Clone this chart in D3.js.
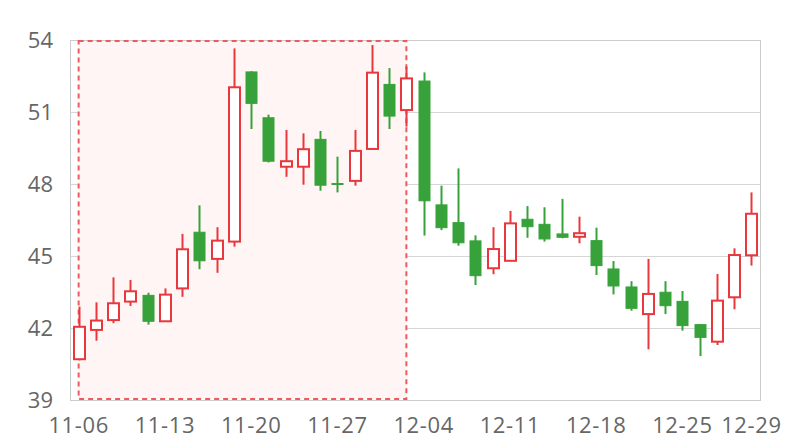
<!DOCTYPE html>
<html><head><meta charset="utf-8">
<script src="https://cdn.jsdelivr.net/npm/d3@7"></script>
<style>body{margin:0;background:#fff}svg{display:block}</style>
</head><body>
<svg id="c" width="800" height="440"></svg>
<script>
const dates = ["11-06","11-07","11-08","11-09","11-10","11-13","11-14","11-15","11-16","11-17",
"11-20","11-21","11-22","11-23","11-24","11-27","11-28","11-29","11-30","12-01",
"12-04","12-05","12-06","12-07","12-08","12-11","12-12","12-13","12-14","12-15",
"12-18","12-19","12-20","12-21","12-22","12-25","12-26","12-27","12-28","12-29"];
const openV  = [40.70,41.92,42.33,43.10,43.36,42.28,43.65,45.99,44.88,45.60,
52.67,50.76,48.72,48.72,49.86,48.02,48.13,49.46,52.15,51.08,
52.29,47.13,46.39,45.63,44.49,44.80,46.53,46.32,45.92,45.80,
45.64,44.46,43.71,42.58,43.49,43.11,42.14,41.43,43.28,45.03];
const closeV = [42.05,42.31,43.03,43.53,42.28,43.39,45.28,44.80,45.64,52.03,
51.36,48.95,48.95,49.45,47.95,47.98,49.38,52.64,50.83,52.40,
47.30,46.18,45.55,44.18,45.29,46.36,46.22,45.71,45.78,45.95,
44.60,43.75,42.82,43.42,42.93,42.10,41.61,43.14,45.04,46.76];
const highV  = [42.89,43.07,44.11,44.00,43.47,43.65,45.92,47.11,46.20,53.65,
52.70,50.89,50.25,50.11,50.21,49.14,50.25,53.79,52.83,52.89,
52.65,47.93,48.65,45.86,46.20,46.88,47.08,47.03,47.38,46.64,
46.18,44.79,43.95,44.88,43.95,43.54,42.16,44.25,45.32,47.65];
const lowV   = [40.65,41.47,42.20,42.92,42.14,42.25,43.30,44.45,44.30,45.39,
50.29,48.90,48.30,47.97,47.72,47.65,47.93,49.43,50.29,50.39,
45.85,46.08,45.43,43.79,44.24,44.78,45.76,45.60,45.74,45.53,
44.21,43.40,42.72,41.11,42.58,41.89,40.83,41.29,42.78,44.60];
const yTicks = [39,42,45,48,51,54];
const xLabels = ["11-06","11-13","11-20","11-27","12-04","12-11","12-18","12-25","12-29"];
const areaRange = ["11-06","12-01"];

const data = dates.map((d,i)=>({d,o:openV[i],c:closeV[i],h:highV[i],l:lowV[i]}));
const svg = d3.select("#c");
const L=70,R=760,T=40,B=400;
const x = d3.scaleBand().domain(dates).range([L,R]);
const y = d3.scaleLinear().domain([39,54]).range([B,T]);
const cx = d=>x(d)+x.bandwidth()/2;
const RED="#e8383d", GREEN="#37a23a";
const FONT="'Open Sans',sans-serif";

// grid
svg.append("g").selectAll("line").data(yTicks).join("line")
  .attr("x1",L).attr("x2",R).attr("y1",d=>y(d)+0.5).attr("y2",d=>y(d)+0.5)
  .attr("stroke","#d6d6d6").attr("stroke-width",1);
svg.append("rect").attr("x",L+0.5).attr("y",T+0.5).attr("width",R-L).attr("height",B-T)
  .attr("fill","none").attr("stroke","#cccccc").attr("stroke-width",1);

// mark area
const ax0=cx(areaRange[0]), ax1=cx(areaRange[1]);
svg.append("rect").attr("x",ax0).attr("y",y(54)+1).attr("width",ax1-ax0).attr("height",y(39)-y(54)-2)
  .attr("fill","#fff5f5").attr("stroke","#ee5a5e").attr("stroke-width",2).attr("stroke-dasharray","5,4");

// axes labels
const yAxis = d3.axisLeft(y).tickValues(yTicks).tickSize(0).tickPadding(17);
const gy = svg.append("g").attr("transform",`translate(${L},0)`).call(yAxis);
gy.select(".domain").remove();
gy.selectAll("text").attr("font-family",FONT).attr("font-size",22).attr("fill","#666");

const xAxis = d3.axisBottom(x).tickValues(xLabels).tickSize(0).tickPadding(17);
const gx = svg.append("g").attr("transform",`translate(0,${B})`).call(xAxis);
gx.select(".domain").remove();
gx.selectAll("text").attr("font-family",FONT).attr("font-size",22).attr("fill","#666")
  .attr("letter-spacing","0.6px");

// candles
const bw = 11;
const g = svg.append("g");
const up = d=>d.c>=d.o;
g.selectAll("line.w").data(data).join("line").attr("class","w")
  .attr("x1",d=>Math.round(cx(d.d))+0.5).attr("x2",d=>Math.round(cx(d.d))+0.5)
  .attr("y1",d=>y(d.h)).attr("y2",d=>y(d.l))
  .attr("stroke",d=>up(d)?RED:GREEN).attr("stroke-width",2);
g.selectAll("rect.b").data(data).join("rect").attr("class","b")
  .attr("x",d=>Math.round(cx(d.d))+0.5-bw/2)
  .attr("y",d=>y(Math.max(d.o,d.c)))
  .attr("width",bw)
  .attr("height",d=>Math.max(1,Math.abs(y(d.o)-y(d.c))))
  .attr("fill",d=>up(d)?"#ffffff":GREEN)
  .attr("stroke",d=>up(d)?RED:GREEN)
  .attr("stroke-width",d=>up(d)?2:1);
</script>
</body></html>
